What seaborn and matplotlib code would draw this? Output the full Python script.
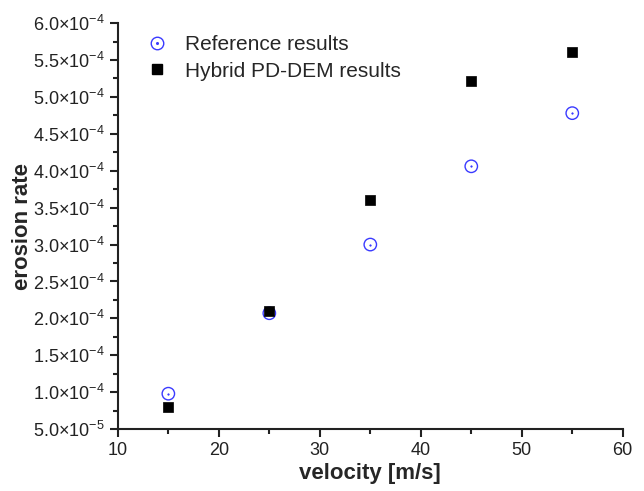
import matplotlib
matplotlib.use("Agg")
import math
import matplotlib.pyplot as plt
import seaborn as sns
import pandas as pd
from matplotlib.ticker import MultipleLocator, FuncFormatter
from matplotlib.legend_handler import HandlerTuple

sns.set_theme(style="ticks")
plt.rcParams['font.family'] = ['Liberation Sans', 'DejaVu Sans']
plt.rcParams['mathtext.fontset'] = 'custom'
plt.rcParams['mathtext.rm'] = 'Liberation Sans'
plt.rcParams['mathtext.default'] = 'regular'

velocity = [15, 25, 35, 45, 55]
reference_rate = [9.8e-5, 2.07e-4, 3.00e-4, 4.06e-4, 4.78e-4]
hybrid_rate = [8.0e-5, 2.10e-4, 3.61e-4, 5.22e-4, 5.61e-4]
series_names = ["Reference results", "Hybrid PD-DEM results"]

df_ref = pd.DataFrame({"velocity": velocity, "rate": reference_rate})
df_hyb = pd.DataFrame({"velocity": velocity, "rate": hybrid_rate})

fig = plt.figure(figsize=(6.44, 4.91), dpi=100)
ax = fig.add_axes([0.183, 0.126, 0.784, 0.827])

blue = "#3a3aff"
sns.scatterplot(data=df_ref, x="velocity", y="rate", ax=ax, marker="o",
                s=80, facecolors="none", edgecolor=blue, linewidth=1.0, zorder=3)
sns.scatterplot(data=df_ref, x="velocity", y="rate", ax=ax, marker="o",
                s=1.5, color=blue, edgecolor=blue, linewidth=0.3, zorder=3)
sns.scatterplot(data=df_hyb, x="velocity", y="rate", ax=ax, marker="s",
                s=42, color="black", edgecolor="black", linewidth=0.5, zorder=4)

ax.set_xlim(10, 60)
ax.set_ylim(5e-5, 6e-4)
ax.xaxis.set_major_locator(MultipleLocator(10))
ax.xaxis.set_minor_locator(MultipleLocator(5))
ax.yaxis.set_major_locator(MultipleLocator(5e-5))
ax.yaxis.set_minor_locator(MultipleLocator(2.5e-5))

def yfmt(v, pos):
    if v <= 0:
        return ""
    exp = int(math.floor(math.log10(v) + 1e-9))
    mant = v / 10**exp
    return "%.1f×10$^{%d}$" % (mant, exp)

ax.yaxis.set_major_formatter(FuncFormatter(yfmt))

sns.despine(ax=ax)
for s in ["left", "bottom"]:
    ax.spines[s].set_linewidth(1.5)
    ax.spines[s].set_color("#222222")
ax.tick_params(axis="both", which="major", direction="out", length=6, width=1.5,
               labelsize=13, colors="#222222", labelcolor="#222222")
ax.tick_params(axis="y", which="major", pad=3.5)
ax.tick_params(axis="both", which="minor", direction="out", length=3.5, width=1.5,
               colors="#222222")

ax.set_xlabel("velocity [m/s]", fontsize=16, fontweight="bold", labelpad=3)
ax.set_ylabel("erosion rate", fontsize=16, fontweight="bold")
ax.yaxis.set_label_coords(-0.168, 0.5)

h_ref_o = plt.Line2D([], [], marker="o", linestyle="none", markersize=9,
                     markerfacecolor="none", markeredgecolor=blue, markeredgewidth=1.0)
h_ref_d = plt.Line2D([], [], marker="o", linestyle="none", markersize=1.2,
                     markerfacecolor=blue, markeredgecolor=blue)
h_hyb = plt.Line2D([], [], marker="s", linestyle="none", markersize=6.5,
                   markerfacecolor="black", markeredgecolor="black")
ax.legend([(h_ref_o, h_ref_d), h_hyb], series_names,
          handler_map={tuple: HandlerTuple(ndivide=1, pad=0)},
          loc="upper left", bbox_to_anchor=(0.0525, 0.970), frameon=False,
          borderpad=0, borderaxespad=0,
          fontsize=15, handletextpad=0.745, handlelength=1.2, labelspacing=0.35)

fig.savefig("out.png", dpi=100)
